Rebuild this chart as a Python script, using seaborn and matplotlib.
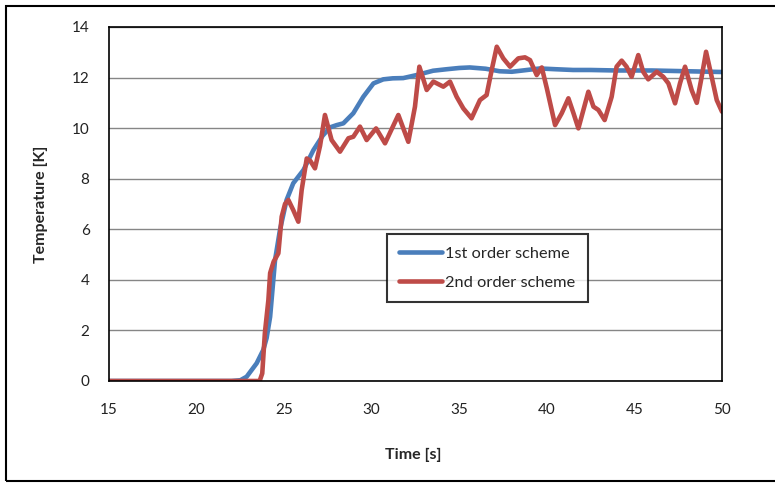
import numpy as np
import pandas as pd
import matplotlib
matplotlib.use("Agg")
import matplotlib.pyplot as plt
from matplotlib.patches import Rectangle
import seaborn as sns

# time [s] and temperature [K]
t_first = [15, 22.0, 22.5, 22.86, 23.43, 23.81, 24.0, 24.2, 24.48, 24.76, 25.14, 25.52,
           26.1, 26.67, 27.2, 27.62, 28.0, 28.38, 28.95, 29.52, 30.1, 30.66, 31.2,
           31.8, 32.57, 33.5, 34.28, 35.0, 35.6, 36.5, 37.3, 38.0, 38.5, 39.6, 40.5,
           41.5, 42.5, 44.0, 46.0, 48.0, 50.0]
T_first = [0, 0, 0.03, 0.17, 0.7, 1.23, 1.7, 2.54, 4.78, 5.97, 7.16, 7.82,
           8.34, 9.13, 9.7, 10.03, 10.12, 10.19, 10.59, 11.24, 11.77, 11.93, 11.97,
           11.98, 12.1, 12.27, 12.33, 12.38, 12.4, 12.35, 12.25, 12.23, 12.27, 12.36, 12.33,
           12.3, 12.3, 12.28, 12.28, 12.25, 12.22]

t_second = [15, 23.6, 23.75, 23.9, 24.1, 24.2, 24.4, 24.67, 24.86, 25.05, 25.24, 25.52,
            25.81, 26.0, 26.29, 26.5, 26.76, 27.05, 27.33, 27.71, 28.19, 28.67, 28.95,
            29.33, 29.71, 30.25, 30.76, 31.52, 32.09, 32.47, 32.72, 33.14, 33.52, 34.09,
            34.47, 34.85, 35.23, 35.7, 36.18, 36.56, 36.85, 37.14, 37.51, 37.9, 38.37,
            38.75, 39.04, 39.42, 39.71, 40.0, 40.47, 40.85, 41.23, 41.52, 41.8, 42.37,
            42.66, 42.94, 43.3, 43.7, 43.98, 44.27, 44.55, 44.84, 45.22, 45.5, 45.79,
            46.27, 46.65, 46.94, 47.32, 47.6, 47.89, 48.27, 48.56, 48.84, 49.09, 49.41,
            49.7, 50.0]
T_second = [0, 0, 0.3, 1.9, 3.2, 4.27, 4.72, 5.05, 6.5, 7.0, 7.16, 6.76,
            6.3, 7.55, 8.8, 8.7, 8.41, 9.3, 10.52, 9.53, 9.07, 9.6, 9.66,
            10.06, 9.53, 9.99, 9.4, 10.52, 9.46, 10.85, 12.43, 11.51, 11.84, 11.64,
            11.84, 11.24, 10.78, 10.39, 11.11, 11.31, 12.3, 13.22, 12.76, 12.43, 12.76,
            12.8, 12.69, 12.1, 12.4, 11.57, 10.12, 10.59, 11.18, 10.59, 9.99, 11.44,
            10.85, 10.72, 10.32, 11.24, 12.43, 12.67, 12.43, 12.03, 12.89, 12.23, 11.93,
            12.23, 12.03, 11.77, 10.98, 11.77, 12.43, 11.5, 11.0, 12.03, 13.02, 12.03,
            11.11, 10.65]

x_ticks = [15, 20, 25, 30, 35, 40, 45, 50]
y_ticks = [0, 2, 4, 6, 8, 10, 12, 14]

df = pd.concat([
    pd.DataFrame({"Time": t_first, "Temp": T_first, "scheme": "1st order scheme"}),
    pd.DataFrame({"Time": t_second, "Temp": T_second, "scheme": "2nd order scheme"}),
])

sns.set_style("white")
plt.rcParams["font.family"] = ["Lato", "DejaVu Sans"]

fig = plt.figure(figsize=(7.75, 4.83), dpi=100)
ax = fig.add_axes([109 / 775, 1 - 381 / 483, 613 / 775, 354 / 483])

sns.lineplot(data=df, x="Time", y="Temp", hue="scheme", sort=False, estimator=None,
             palette={"1st order scheme": "#4A7EBB", "2nd order scheme": "#BE4B48"},
             linewidth=3.3, ax=ax)
for ln in ax.get_lines():
    ln.set_solid_joinstyle("round")
    ln.set_solid_capstyle("round")

ax.set_xlim(15, 50)
ax.set_ylim(0, 14)
ax.set_xticks(x_ticks)
ax.set_yticks(y_ticks)
ax.yaxis.grid(True, color="#868686", linewidth=1)
ax.xaxis.grid(False)
ax.set_axisbelow(True)
ax.tick_params(axis="both", length=0, labelsize=11, colors="#222222")
ax.tick_params(axis="y", pad=14)
ax.tick_params(axis="x", pad=16)
for s in ax.spines.values():
    s.set_visible(True)
    s.set_color("black")
    s.set_linewidth(1.2)

ax.set_xlabel("Time [s]", fontsize=11.5, fontweight="bold")
ax.set_ylabel("Temperature [K]", fontsize=11.5, fontweight="bold")
ax.xaxis.set_label_coords(0.496, -0.19)
ax.yaxis.set_label_coords(-0.1, 0.5)

leg = ax.legend(loc="upper left", bbox_to_anchor=(387 / 775, 1 - 234 / 483),
                bbox_transform=fig.transFigure, fontsize=11.8, frameon=True,
                fancybox=False, edgecolor="black", handlelength=2.6,
                handletextpad=0.2, borderpad=0.75, labelspacing=0.9, borderaxespad=0)
leg.get_frame().set_linewidth(1.5)
leg.set_title(None)

# outer chart frame
fig.patches.append(Rectangle((6 / 775, 2 / 483), 1.0, 475 / 483, transform=fig.transFigure,
                             fill=False, edgecolor="black", linewidth=1.5))

fig.savefig("out.png", dpi=100)
